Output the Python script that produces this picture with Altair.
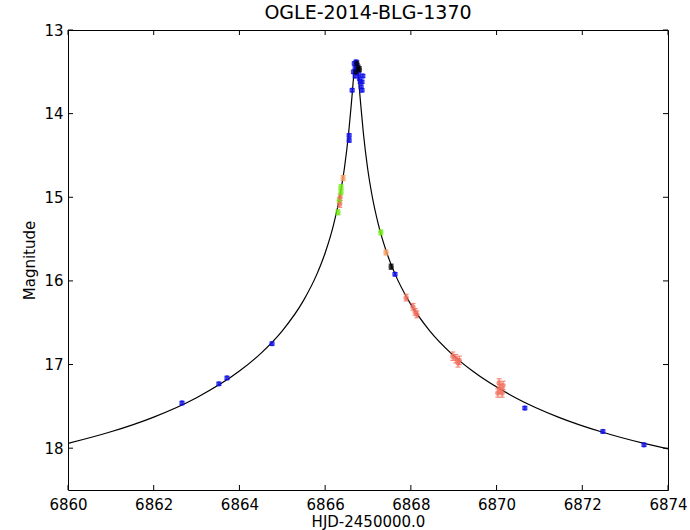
import altair as alt
import pandas as pd

# model curve
curve_x = [6860.0, 6861.0, 6862.0, 6863.0, 6864.0, 6864.5, 6865.0, 6865.5, 6865.8, 6866.0,
           6866.2, 6866.35, 6866.45, 6866.55, 6866.62, 6866.67, 6866.72, 6866.77, 6866.82,
           6866.89, 6866.99, 6867.09, 6867.24, 6867.44, 6867.64, 6867.94, 6868.44, 6868.94,
           6869.44, 6870.44, 6871.44, 6872.44, 6873.44, 6874.0]
curve_y = [17.943, 17.804, 17.628, 17.396, 17.078, 16.866, 16.597, 16.230, 15.928, 15.666,
           15.321, 14.967, 14.650, 14.223, 13.831, 13.535, 13.385, 13.535, 13.831,
           14.223, 14.650, 14.967, 15.321, 15.666, 15.928, 16.230, 16.597, 16.866,
           17.078, 17.396, 17.628, 17.804, 17.943, 18.008]

blue_x = [6862.66, 6863.52, 6863.71, 6864.76, 6866.56, 6866.56, 6866.63, 6866.66, 6866.68,
          6866.70, 6866.70, 6866.72, 6866.74, 6866.76, 6866.78, 6866.80, 6866.82, 6866.84,
          6866.86, 6866.86, 6866.88, 6867.63, 6870.66, 6872.48, 6873.44]
blue_y = [17.46, 17.23, 17.16, 16.75, 14.26, 14.32, 13.72, 13.50, 13.40,
          13.45, 13.55, 13.38, 13.42, 13.48, 13.52, 13.58, 13.62, 13.68,
          13.72, 13.62, 13.55, 15.92, 17.52, 17.80, 17.96]
blue_err = [0.02, 0.02, 0.02, 0.02, 0.02, 0.02, 0.02, 0.02, 0.02,
            0.02, 0.02, 0.02, 0.02, 0.02, 0.02, 0.02, 0.02, 0.02,
            0.02, 0.02, 0.02, 0.02, 0.02, 0.02, 0.02]

black_x = [6866.72, 6866.74, 6866.77, 6866.80, 6867.54]
black_y = [13.50, 13.40, 13.45, 13.47, 15.83]
black_err = [0.03, 0.03, 0.03, 0.03, 0.03]

green_x = [6866.37, 6866.37, 6866.33, 6866.30, 6867.30]
green_y = [14.88, 14.94, 15.04, 15.18, 15.42]
green_err = [0.03, 0.03, 0.03, 0.03, 0.03]

orange_x = [6866.42, 6867.42]
orange_y = [14.77, 15.66]
orange_err = [0.03, 0.03]

red_x = [6866.35, 6866.34, 6867.89, 6868.05, 6868.10, 6868.14,
         6868.98, 6869.05, 6869.10, 6869.13, 6870.03, 6870.06, 6870.08, 6870.13, 6870.15]
red_y = [15.00, 15.08, 16.20, 16.31, 16.37, 16.40,
         16.90, 16.93, 16.98, 16.95, 17.34, 17.22, 17.29, 17.34, 17.25]
red_err = [0.04, 0.04, 0.04, 0.04, 0.04, 0.04,
           0.05, 0.05, 0.05, 0.05, 0.05, 0.05, 0.05, 0.05, 0.05]

x_ticks = [6860, 6862, 6864, 6866, 6868, 6870, 6872, 6874]
y_ticks = [13, 14, 15, 16, 17, 18]

set_names = ["red", "orange", "green", "blue", "black"]
set_colors = ["#f26d5b", "#f59a5e", "#70ea10", "#1010e6", "#000000"]

rows = []
for name, xs, ys, es in [("blue", blue_x, blue_y, blue_err),
                         ("black", black_x, black_y, black_err),
                         ("green", green_x, green_y, green_err),
                         ("orange", orange_x, orange_y, orange_err),
                         ("red", red_x, red_y, red_err)]:
    for x, y, e in zip(xs, ys, es):
        rows.append({"t": x, "mag": y, "lo": y - e, "hi": y + e, "set": name})
pts = pd.DataFrame(rows)
curve = pd.DataFrame({"t": curve_x, "mag": curve_y})

W, H = 600, 460
font = "DejaVu Sans"
xscale = alt.Scale(domain=[6860, 6874], nice=False, zero=False)
yscale = alt.Scale(domain=[13, 18.5], nice=False, zero=False, reverse=True)
cscale = alt.Scale(domain=set_names, range=set_colors)

axis_common = dict(domain=False, ticks=False, grid=False, labelFont=font, labelFontSize=15,
                   labelColor="black", titleFont=font, titleFontSize=15, labelFlush=False,
                   titleFontWeight="normal", titleColor="black", format="d")

line = alt.Chart(curve).mark_line(color="black", strokeWidth=1.2, interpolate="monotone", clip=True).encode(
    x=alt.X("t:Q", scale=xscale, title="HJD-2450000.0",
            axis=alt.Axis(values=x_ticks, labelPadding=7, titlePadding=2, **axis_common)),
    y=alt.Y("mag:Q", scale=yscale, title="Magnitude",
            axis=alt.Axis(values=y_ticks, labelPadding=5, titlePadding=6, **axis_common)),
)

bars = alt.Chart(pts).mark_rule(strokeWidth=1.2, opacity=0.8).encode(
    x=alt.X("t:Q", scale=xscale),
    y=alt.Y("lo:Q", scale=yscale),
    y2="hi:Q",
    color=alt.Color("set:N", scale=cscale, legend=None),
)
caps_lo = alt.Chart(pts).mark_tick(orient="horizontal", size=5, thickness=1.2, opacity=0.8).encode(
    x=alt.X("t:Q", scale=xscale),
    y=alt.Y("lo:Q", scale=yscale),
    color=alt.Color("set:N", scale=cscale, legend=None),
)
caps_hi = alt.Chart(pts).mark_tick(orient="horizontal", size=5, thickness=1.2, opacity=0.8).encode(
    x=alt.X("t:Q", scale=xscale),
    y=alt.Y("hi:Q", scale=yscale),
    color=alt.Color("set:N", scale=cscale, legend=None),
)
dots = alt.Chart(pts).mark_circle(size=28, opacity=0.75).encode(
    x=alt.X("t:Q", scale=xscale),
    y=alt.Y("mag:Q", scale=yscale),
    color=alt.Color("set:N", scale=cscale, legend=None),
)

xt = pd.DataFrame({"t": x_ticks})
yt = pd.DataFrame({"mag": y_ticks})
xt_bot = alt.Chart(xt).mark_rule(color="black").encode(
    x=alt.X("t:Q", scale=xscale), y=alt.value(H), y2=alt.value(H - 5))
xt_top = alt.Chart(xt).mark_rule(color="black").encode(
    x=alt.X("t:Q", scale=xscale), y=alt.value(0), y2=alt.value(5))
yt_left = alt.Chart(yt).mark_rule(color="black").encode(
    y=alt.Y("mag:Q", scale=yscale), x=alt.value(0), x2=alt.value(5))
yt_right = alt.Chart(yt).mark_rule(color="black").encode(
    y=alt.Y("mag:Q", scale=yscale), x=alt.value(W), x2=alt.value(W - 5))

chart = alt.layer(line, bars, caps_lo, caps_hi, dots, xt_bot, xt_top, yt_left, yt_right).properties(
    width=W, height=H,
    autosize=alt.AutoSizeParams(type="none"),
    padding={"left": 68, "top": 30, "right": 22, "bottom": 40},
    title=alt.TitleParams("OGLE-2014-BLG-1370", font=font, fontSize=19, fontWeight="normal",
                          color="black", offset=0, anchor="middle"),
).configure(background="white").configure_view(stroke="black", strokeWidth=1).configure_axis(
    domain=False, ticks=False, grid=False,
)

chart.save("out.html", embed_options={"renderer": "svg", "actions": False})
